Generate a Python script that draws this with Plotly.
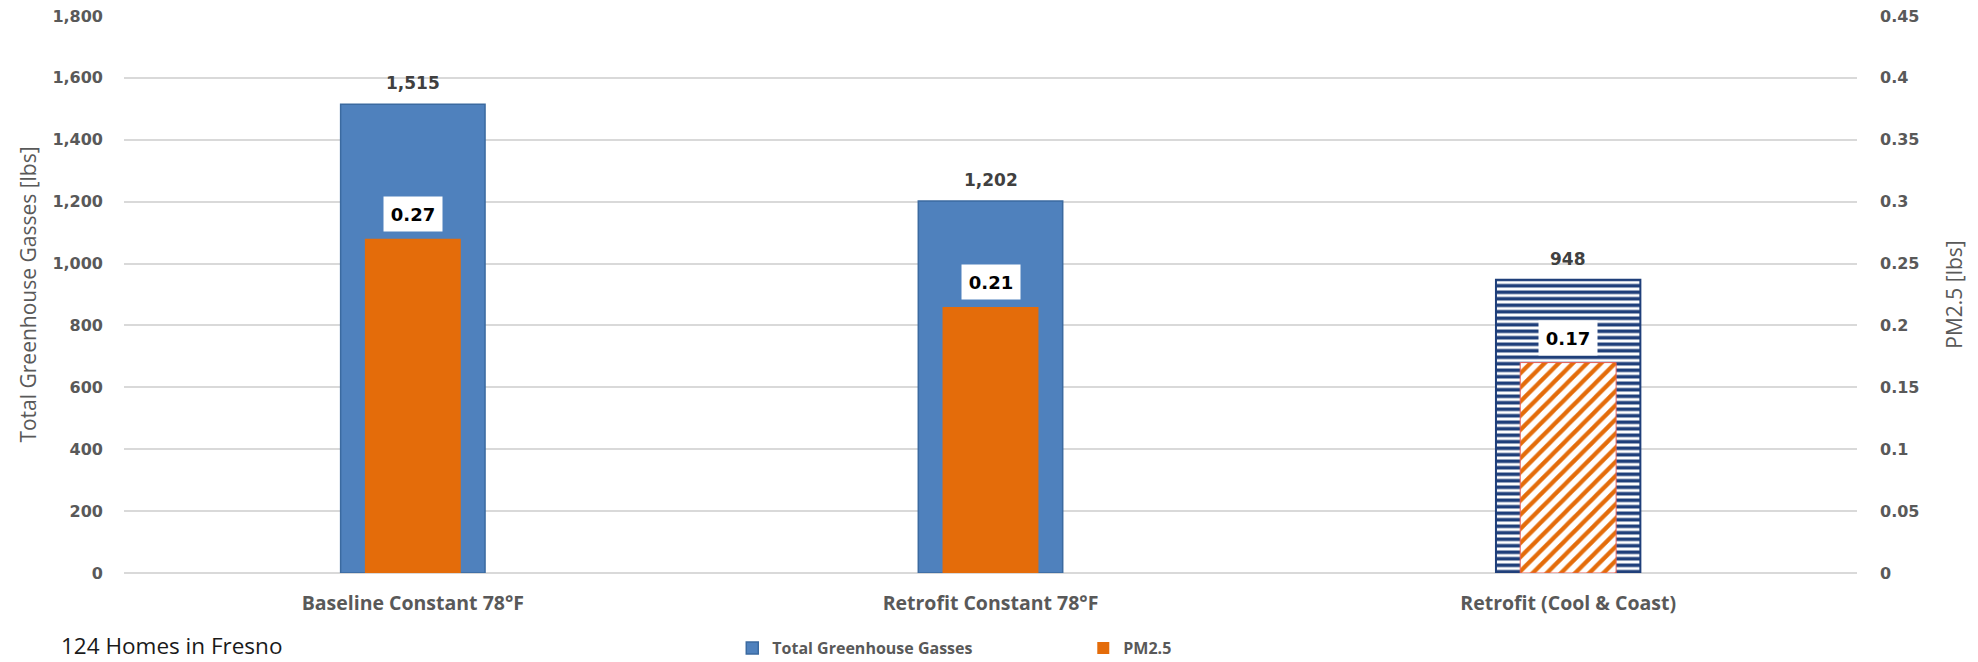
import plotly.graph_objects as go

# ---------------- data ----------------
categories = ["Baseline Constant 78°F", "Retrofit Constant 78°F", "Retrofit (Cool & Coast)"]
ghg_lbs = [1515, 1202, 948]
pm25_lbs = [0.27, 0.215, 0.17]

ghg_ticks = [0, 200, 400, 600, 800, 1000, 1200, 1400, 1600, 1800]
ghg_tick_labels = ["0", "200", "400", "600", "800", "1,000", "1,200", "1,400", "1,600", "1,800"]
pm_ticks = [0, 0.05, 0.1, 0.15, 0.2, 0.25, 0.3, 0.35, 0.4, 0.45]
pm_tick_labels = ["0", "0.05", "0.1", "0.15", "0.2", "0.25", "0.3", "0.35", "0.4", "0.45"]

ghg_labels = [f"{v:,.0f}" for v in ghg_lbs]
pm_labels = [f"{v:.2f}" for v in pm25_lbs]

# ---------------- styles ----------------
BLUE = "#4F81BD"
BLUE_EDGE = "#3B6AA0"
NAVY = "#1F3F7A"
ORANGE = "#E46C0A"
GREY_TXT = "#595959"
GRID = "#D9D9D9"

fig = go.Figure()

fig.add_trace(go.Bar(
    name="Total Greenhouse Gasses",
    x=categories, y=ghg_lbs, yaxis="y",
    width=0.25,
    marker=dict(
        color=BLUE,
        line=dict(color=[BLUE_EDGE, BLUE_EDGE, NAVY], width=[1.5, 1.5, 2]),
        pattern=dict(shape=["", "", "-"], bgcolor="white", fgcolor=NAVY,
                     size=6.5, solidity=0.55, fillmode="replace", fgopacity=1),
    ),
    hoverinfo="skip",
))

fig.add_trace(go.Bar(
    name="PM2.5",
    x=categories, y=pm25_lbs, yaxis="y2",
    width=0.166,
    marker=dict(
        color=ORANGE,
        line=dict(color=[ORANGE, ORANGE, "#E8605A"], width=[0, 0, 1]),
        pattern=dict(shape=["", "", "/"], bgcolor="white", fgcolor=ORANGE,
                     size=10, solidity=0.42, fillmode="replace", fgopacity=1),
    ),
    hoverinfo="skip",
))

annotations = []
for c, v, t in zip(categories, ghg_lbs, ghg_labels):
    annotations.append(dict(
        x=c, y=v, xref="x", yref="y", text=t, showarrow=False,
        yanchor="bottom", yshift=9,
        font=dict(family="DejaVu Sans", size=17, color="#404040", weight="bold"),
    ))
for c, v, t in zip(categories, pm25_lbs, pm_labels):
    annotations.append(dict(
        x=c, y=v, xref="x", yref="y2", text=t, showarrow=False,
        yanchor="bottom", yshift=7, width=58, height=34,
        bgcolor="white", borderpad=0,
        font=dict(family="DejaVu Sans", size=18, color="#000000", weight="bold"),
    ))
annotations.append(dict(
    x=-0.0375, y=-0.130, xref="paper", yref="paper", xanchor="left", yanchor="middle",
    text="124 Homes in Fresno", showarrow=False,
    font=dict(family="Open Sans", size=22.5, color="#1a1a1a"),
))

fig.update_layout(
    width=1978, height=662,
    margin=dict(l=124, r=121, t=16, b=89, autoexpand=False),
    paper_bgcolor="white", plot_bgcolor="white",
    barmode="overlay",
    showlegend=True,
    legend=dict(orientation="h", x=0.351, xanchor="left", y=-0.135, yanchor="middle",
                font=dict(family="Open Sans", size=16, color=GREY_TXT, weight="bold"),
                itemwidth=30, traceorder="normal",
                entrywidth=306, entrywidthmode="pixels"),
    xaxis=dict(
        type="category", range=[-0.5, 2.5],
        showgrid=False, zeroline=False, showline=False,
        ticks="", ticklabelstandoff=16,
        tickfont=dict(family="Open Sans", size=19.5, color=GREY_TXT, weight="bold"),
    ),
    yaxis=dict(
        range=[0, 1800], tickvals=ghg_ticks, ticktext=ghg_tick_labels,
        showgrid=True, gridcolor=GRID, gridwidth=1.5,
        zeroline=True, zerolinecolor=GRID, zerolinewidth=1.5,
        showline=False, ticks="", ticklabelstandoff=20,
        tickfont=dict(family="DejaVu Sans", size=16, color=GREY_TXT, weight="bold"),
        title=dict(text="Total Greenhouse Gasses [lbs]", standoff=10,
                   font=dict(family="Open Sans", size=21, color=GREY_TXT)),
    ),
    yaxis2=dict(
        range=[0, 0.45], tickvals=pm_ticks, ticktext=pm_tick_labels,
        overlaying="y", side="right",
        showgrid=False, zeroline=False, showline=False,
        ticks="", ticklabelstandoff=22,
        tickfont=dict(family="DejaVu Sans", size=16, color=GREY_TXT, weight="bold"),
        title=dict(text="PM2.5 [lbs]", standoff=28,
                   font=dict(family="Open Sans", size=21, color=GREY_TXT)),
    ),
    annotations=annotations,
)

fig.write_html("out.html")
